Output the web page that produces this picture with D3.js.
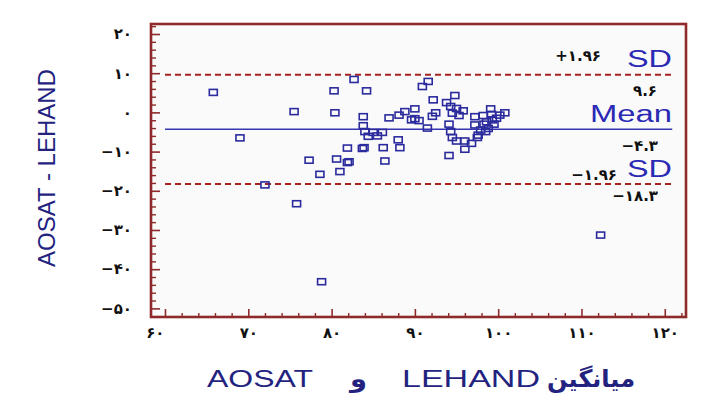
<!DOCTYPE html>
<html><head><meta charset="utf-8">
<script src="https://cdn.jsdelivr.net/npm/d3@7"></script>
<style>
html,body{margin:0;padding:0;background:#fff;}
svg{display:block;}
</style></head>
<body>
<svg id="c" width="707" height="406"></svg>
<script>
// ---- data ----
const avgValues = [65.8,69.0,72.0,75.5,75.8,78.8,112.3,77.3,78.6,80.3,80.4,80.6,81.0,81.9,81.9,82.1,82.7,83.7,83.9,83.8,83.8,84.0,84.2,84.4,85.0,85.5,86.1,86.2,86.4,86.9,88.0,88.2,88.1,88.8,90.0,89.6,90.0,90.5,90.9,91.6,92.2,92.1,92.5,91.5,93.8,94.8,94.3,95.0,95.8,94.5,95.3,94.1,94.3,94.5,95.0,96.0,96.0,94.1,96.8,97.5,97.2,97.2,98.2,99.1,99.2,97.9,98.3,98.6,98.8,99.3,99.5,99.8,100.2,100.8,98.5,97.6];
const diffValues = [5.1,-6.5,-18.5,0.2,-23.3,-43.2,-31.3,-12.2,-15.8,5.5,-0.1,-11.9,-15.1,-9.1,-12.8,-12.6,8.4,-9.2,-9.0,-1.1,-3.4,-4.9,5.5,-6.1,-5.1,-6.0,-5.1,-9.0,-12.4,-1.4,-7.0,-9.0,-0.7,0.2,0.9,-1.9,-1.6,-2.1,6.6,7.9,3.2,-1.0,-0.1,-4.0,2.5,4.3,1.5,1.0,0.4,-0.2,-0.8,-3.0,-4.9,-6.4,-7.3,-7.3,-9.4,-11.0,-7.9,-6.4,-1.1,-3.2,-0.8,0.9,-0.5,-4.5,-3.0,-2.4,-4.1,-1.9,-3.0,-1.5,-0.7,-0.1,-4.9,-5.8];
const meanDiff = -4.3;
const upperLimit = 9.6;
const lowerLimit = -18.3;
const xTicks = [60,70,80,90,100,110,120];
const xTickLabels = ["۶۰","۷۰","۸۰","۹۰","۱۰۰","۱۱۰","۱۲۰"];
const yTicks = [20,10,0,-10,-20,-30,-40,-50];
const yTickLabels = ["۲۰","۱۰","۰","−۱۰","−۲۰","−۳۰","−۴۰","−۵۰"];
const upperLabel = "+۱.۹۶";
const upperValueLabel = "۹.۶";
const meanValueLabel = "−۴.۳";
const lowerLabel = "−۱.۹۶";
const lowerValueLabel = "−۱۸.۳";
const yTitle = "AOSAT - LEHAND";
const xTitleParts = ["AOSAT","و","LEHAND","میانگین"];

// ---- layout ----
const L=151,R=686,T=24,B=317;
const svg = d3.select("#c");
const x = d3.scaleLinear().domain([58.32,122.55]).range([L,R]);
const y = d3.scaleLinear().domain([-52.2,22.55]).range([B,T]);
const frameCol = "#8e2a2a";
const blue = "#2b2b9e";

svg.append("rect").attr("x",L).attr("y",T).attr("width",R-L).attr("height",B-T)
  .attr("fill","#fafafa");

// minor ticks
const xMinor = d3.range(60,123,2).filter(v=>v%10!==0);
const yMinor = d3.range(-52,23,2).filter(v=>v%10!==0);
const gxm = svg.append("g").attr("transform",`translate(0,${B})`)
  .call(d3.axisBottom(x).tickValues(xMinor).tickSize(-4).tickFormat(""));
const gym = svg.append("g").attr("transform",`translate(${L},0)`)
  .call(d3.axisLeft(y).tickValues(yMinor).tickSize(-5).tickFormat(""));
[gxm,gym].forEach(g=>{g.select(".domain").remove();g.selectAll("line").attr("stroke",frameCol).attr("stroke-width",1.4);});

// major ticks
const gx = svg.append("g").attr("transform",`translate(0,${B})`)
  .call(d3.axisBottom(x).tickValues(xTicks).tickSize(-8).tickPadding(10)
    .tickFormat((d,i)=>xTickLabels[i]));
const gy = svg.append("g").attr("transform",`translate(${L},0)`)
  .call(d3.axisLeft(y).tickValues(yTicks).tickSize(-9).tickPadding(19)
    .tickFormat((d,i)=>yTickLabels[i]));
[gx,gy].forEach(g=>{
  g.select(".domain").remove();
  g.selectAll("line").attr("stroke",frameCol).attr("stroke-width",1.6);
  g.selectAll("text").attr("font-family","DejaVu Sans, sans-serif").attr("font-weight","bold")
    .attr("font-size",15).attr("fill","#111");
});
gx.selectAll(".tick").filter(d=>d===60).select("text").attr("text-anchor","end").attr("dx",-1);

// frame
svg.append("rect").attr("x",L).attr("y",T).attr("width",R-L).attr("height",B-T)
  .attr("fill","none").attr("stroke",frameCol).attr("stroke-width",2.6);

// reference lines
const lx0 = x(60), lx1 = x(120.9);
svg.append("line").attr("x1",lx0).attr("x2",lx1).attr("y1",y(upperLimit)).attr("y2",y(upperLimit))
  .attr("stroke","#a52222").attr("stroke-width",2).attr("stroke-dasharray","6,4");
svg.append("line").attr("x1",lx0).attr("x2",lx1).attr("y1",y(lowerLimit)).attr("y2",y(lowerLimit))
  .attr("stroke","#a52222").attr("stroke-width",2).attr("stroke-dasharray","6,4");
svg.append("line").attr("x1",lx0).attr("x2",lx1).attr("y1",y(meanDiff)).attr("y2",y(meanDiff))
  .attr("stroke","#3535b0").attr("stroke-width",1.6);

// points
const pts = avgValues.map((v,i)=>({a:v,d:diffValues[i]}));
svg.append("g").selectAll("rect").data(pts).join("rect")
  .attr("x",p=>x(p.a)-4).attr("y",p=>y(p.d)-3).attr("width",8).attr("height",6)
  .attr("fill","none").attr("stroke",blue).attr("stroke-width",1.6);

// right labels
const numTxt = (t,xx,yy)=>svg.append("text").text(t).attr("x",xx).attr("y",yy)
  .attr("text-anchor","end").attr("font-family","DejaVu Sans, sans-serif")
  .attr("font-weight","bold").attr("font-size",15).attr("fill","#111").attr("direction","ltr");
const bigTxt = (t,x0,yy,len)=>svg.append("text").text(t).attr("x",x0).attr("y",yy)
  .attr("text-anchor","start").attr("font-family","Liberation Sans, Arial, sans-serif")
  .attr("font-size",23).attr("fill","#2a2ab4")
  .attr("textLength",len).attr("lengthAdjust","spacingAndGlyphs");
numTxt(upperLabel,601,61);
bigTxt("SD",627,67,45);
numTxt(upperValueLabel,657,96);
bigTxt("Mean",590,122,82);
numTxt(meanValueLabel,658,151);
numTxt(lowerLabel,617,180);
bigTxt("SD",627,177,45);
numTxt(lowerValueLabel,658,201);

// axis titles
svg.append("text").text(yTitle)
  .attr("transform","translate(55,168) rotate(-90)")
  .attr("text-anchor","middle").attr("font-family","Liberation Sans, Arial, sans-serif")
  .attr("font-size",24).attr("fill","#23237f");
const titleX0 = [207,350,402,547];
const titleLen = [106,17,138,88];
xTitleParts.forEach((t,i)=>{
  svg.append("text").text(t).attr("x",titleX0[i]).attr("y",387)
    .attr("text-anchor","start").attr("font-family","Liberation Sans, DejaVu Sans, sans-serif")
    .attr("font-size",24).attr("font-weight",i%2===1?"bold":"normal").attr("fill","#23237f")
    .attr("textLength",titleLen[i]).attr("lengthAdjust","spacingAndGlyphs");
});
</script>
</body></html>
